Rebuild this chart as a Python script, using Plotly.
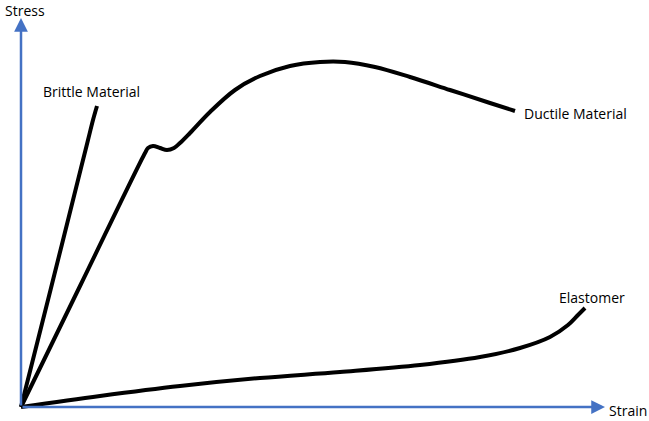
import plotly.graph_objs as go

# pixel-ish strain / stress readings, origin at the axes corner
brittle_x = [0, 30, 60, 67, 72, 76]
brittle_y = [0, 119, 239, 267, 287, 301]

ductile_x = [0, 60, 124, 127, 132, 139, 146, 153, 159, 169, 189, 214, 239, 269, 299, 324, 354, 389, 429, 469, 494]
ductile_y = [0, 123, 254, 259, 261, 259, 257, 259, 264, 274, 295, 317, 331, 341, 345, 345, 340, 330, 317, 304, 296]

elast_x = [0, 79, 159, 239, 319, 399, 459, 499, 529, 547, 557, 564]
elast_y = [0, 11, 21, 29, 35, 42, 50, 59, 70, 82, 92, 99]

blue = '#4472C4'
fnt = dict(family='Open Sans', size=14, color='#000000')

data = [
    go.Scatter(x=brittle_x, y=brittle_y, mode='lines',
               line=dict(color='black', width=4, shape='spline'), name='Brittle Material'),
    go.Scatter(x=ductile_x, y=ductile_y, mode='lines',
               line=dict(color='black', width=4, shape='spline'), name='Ductile Material'),
    go.Scatter(x=elast_x, y=elast_y, mode='lines',
               line=dict(color='black', width=4, shape='spline'), name='Elastomer'),
]

annotations = [
    # axes arrows
    dict(x=584, y=0, ax=0, ay=0, xref='x', yref='y', axref='x', ayref='y',
         showarrow=True, arrowhead=2, arrowsize=1.1, arrowwidth=2.5, arrowcolor=blue, text=''),
    dict(x=0, y=389, ax=0, ay=0, xref='x', yref='y', axref='x', ayref='y',
         showarrow=True, arrowhead=2, arrowsize=1.1, arrowwidth=2.5, arrowcolor=blue, text=''),
    dict(x=-18, y=397, text='Stress', showarrow=False, xanchor='left', font=fnt),
    dict(x=586, y=-3, text='Strain', showarrow=False, xanchor='left', font=fnt),
    dict(x=70.5, y=316, text='Brittle Material', showarrow=False, font=fnt),
    dict(x=501, y=294, text='Ductile Material', showarrow=False, xanchor='left', font=fnt),
    dict(x=536, y=110, text='Elastomer', showarrow=False, xanchor='left', font=fnt),
]

layout = go.Layout(
    width=649, height=421, autosize=False,
    margin=dict(l=0, r=0, t=0, b=0),
    paper_bgcolor='white', plot_bgcolor='white',
    showlegend=False,
    xaxis=dict(range=[-21, 628], visible=False, fixedrange=True),
    yaxis=dict(range=[-14, 407], visible=False, fixedrange=True),
    annotations=annotations,
)

fig = go.Figure(data=data, layout=layout)
fig.write_html("out.html", config={'displayModeBar': False},
               post_script="document.body.style.margin='0px';")
